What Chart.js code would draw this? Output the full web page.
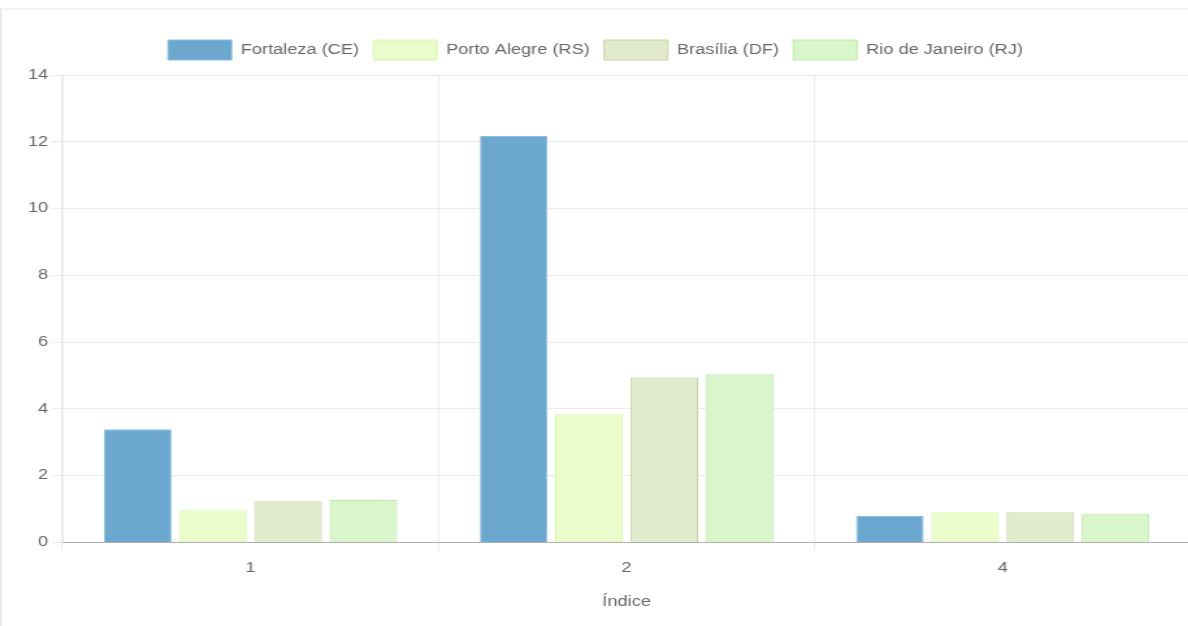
<!DOCTYPE html>
<html>
<head>
<meta charset="utf-8">
<script src="https://cdn.jsdelivr.net/npm/chart.js@4/dist/chart.umd.min.js"></script>
<style>
  html, body { margin: 0; padding: 0; background: #fff; }
  body { width: 1188px; height: 626px; overflow: hidden; position: relative; }
  .card {
    position: absolute; left: 0; top: 8px; width: 1200px; height: 640px;
    border-top: 2px solid #f1f2f4; border-left: 2px solid #e6ebf2;
  }
  .wrap {
    position: absolute; left: 0; top: 0; width: 916px; height: 626px;
    transform: scaleX(1.3); transform-origin: 0 0;
  }
</style>
</head>
<body>
<div class="card"></div>
<div class="wrap"><canvas id="chart"></canvas></div>
<script>
(function () {
  'use strict';

  var categories = ['1', '2', '4'];
  var seriesNames = ['Fortaleza (CE)', 'Porto Alegre (RS)', 'Brasília (DF)', 'Rio de Janeiro (RJ)'];
  var fortaleza = [3.39, 12.17, 0.79];
  var portoAlegre = [0.96, 3.84, 0.90];
  var brasilia = [1.23, 4.94, 0.90];
  var rioDeJaneiro = [1.27, 5.04, 0.86];
  var yTicks = [0, 2, 4, 6, 8, 10, 12, 14];

  var fills = ['rgb(108,167,206)', 'rgb(234,252,203)', 'rgb(226,234,205)', 'rgb(217,245,204)'];
  var borders = ['rgb(140,190,222)', 'rgb(216,246,170)', 'rgb(200,212,160)', 'rgb(186,234,166)'];

  var values = [fortaleza, portoAlegre, brasilia, rioDeJaneiro];
  var datasets = values.map(function (v, idx) {
    return {
      label: seriesNames[idx],
      data: v,
      backgroundColor: fills[idx],
      borderColor: borders[idx],
      borderWidth: 1,
      barPercentage: 0.9,
      categoryPercentage: 0.8
    };
  });

  // extra room under the legend
  var legendGap = {
    id: 'legendGap',
    beforeInit: function (chart) {
      var fit = chart.legend.fit;
      chart.legend.fit = function () {
        fit.call(this);
        this.height += 5;
      };
    }
  };

  Chart.defaults.font.family = '"Liberation Sans", Arial, Helvetica, sans-serif';
  Chart.defaults.font.size = 14;
  Chart.defaults.color = '#666';

  new Chart(document.getElementById('chart'), {
    type: 'bar',
    data: { labels: categories, datasets: datasets },
    plugins: [legendGap],
    options: {
      responsive: true,
      maintainAspectRatio: false,
      animation: false,
      layout: { padding: { top: 29, left: 0, right: 0, bottom: 11 } },
      plugins: {
        legend: {
          position: 'top',
          labels: { boxWidth: 49, boxHeight: 20, padding: 11, color: '#666' }
        },
        tooltip: { enabled: false }
      },
      scales: {
        x: {
          grid: { color: 'rgba(0,0,0,0.08)', tickLength: 8 },
          border: { color: 'rgba(0,0,0,0.25)', width: 1 },
          ticks: { padding: 9 },
          title: { display: true, text: 'Índice', padding: { top: 9 } }
        },
        y: {
          min: 0,
          max: 14,
          afterBuildTicks: function (axis) {
            axis.ticks = yTicks.map(function (t) { return { value: t }; });
          },
          afterFit: function (axis) {
            axis.width = 48;
          },
          grid: { color: 'rgba(0,0,0,0.08)', tickLength: 8 },
          border: { color: 'rgba(0,0,0,0.08)' },
          ticks: { padding: 3 }
        }
      }
    }
  });
})();
</script>
</body>
</html>
